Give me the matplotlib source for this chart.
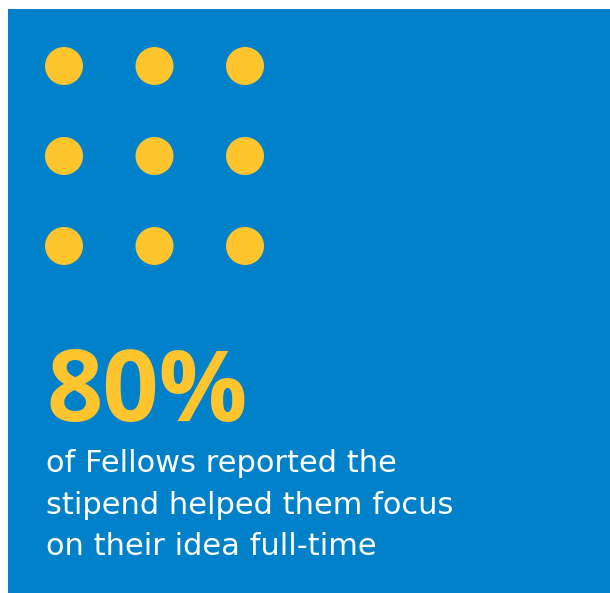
import numpy as np
import matplotlib.pyplot as plt
from matplotlib import font_manager as fm
from matplotlib.patches import Circle, Rectangle

# data
dot_cols = [0, 1, 2]
dot_rows = [0, 1, 2]
stat_value = "80%"
caption_lines = ["of Fellows reported the",
                 "stipend helped them focus",
                 "on their idea full-time"]

blue = "#0081C9"
yellow = "#FFC52F"


def pick_font(family, weight):
    # choose a plain (non-condensed, upright) face so the result is stable
    want = fm.weight_dict.get(weight, weight)
    for f in fm.fontManager.ttflist:
        w = fm.weight_dict.get(f.weight, f.weight)
        if (f.name == family and w == want and f.style == "normal"
                and f.stretch in ("normal", 500)
                and "ondensed" not in f.fname):
            return fm.FontProperties(fname=f.fname)
    return fm.FontProperties(family=family, weight=weight)


big_font = pick_font("Open Sans", "bold")
big_font.set_size(71)
cap_font = pick_font("DejaVu Sans", "normal")
cap_font.set_size(22)

fig = plt.figure(figsize=(6.10, 5.93), dpi=100)
ax = fig.add_axes([0, 0, 1, 1])
ax.set_xlim(0, 610)
ax.set_ylim(593, 0)
ax.set_aspect("equal")
ax.axis("off")

ax.add_patch(Rectangle((8, 9), 610, 600, color=blue, lw=0))

gx, gy = np.meshgrid(dot_cols, dot_rows)
for c, r in zip(gx.ravel(), gy.ravel()):
    ax.add_patch(Circle((64 + 90.5 * c, 66 + 90 * r), 19, color=yellow, lw=0))

ax.text(46, 421, stat_value, color=yellow, fontproperties=big_font,
        va="baseline", ha="left")

for i, line in enumerate(caption_lines):
    ax.text(46, 472 + 41.5 * i, line, color="white", fontproperties=cap_font,
            va="baseline", ha="left")

fig.savefig("out.png", dpi=100)
